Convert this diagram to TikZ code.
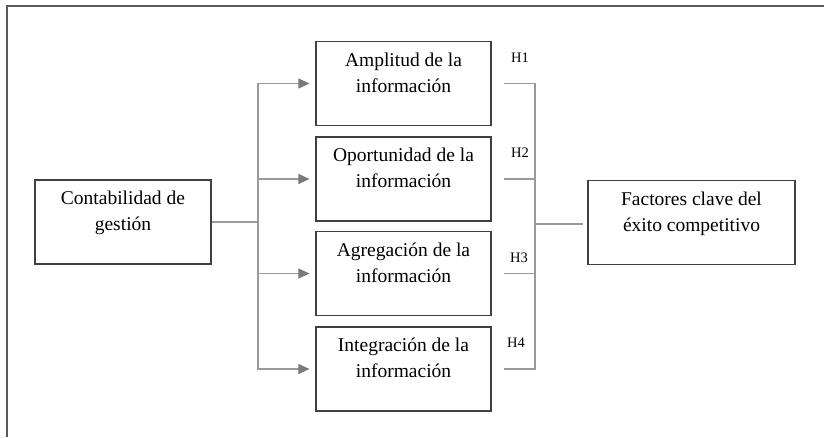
\documentclass[tikz,border=0pt]{standalone}
\usepackage{fontspec}
\setmainfont{Liberation Serif}
\usepackage{tikz}
\usetikzlibrary{arrows.meta}

\definecolor{framegray}{HTML}{5A5A5A}
\definecolor{boxgray}{HTML}{404040}
\definecolor{linegray}{HTML}{9A9A9A}
\definecolor{tipgray}{HTML}{7A7A7A}

\begin{document}
\begin{tikzpicture}[x=1pt,y=-1pt]
						\tikzstyle{box}=[rectangle,draw=boxgray,line width=1.2pt,minimum height=84pt,align=center,inner sep=0pt,text depth=22pt,font=\fontsize{19.5}{26}\selectfont]
						\tikzstyle{conn}=[draw=linegray,line width=1.1pt]
						\tikzstyle{arr}=[conn,-{Triangle[length=11pt,width=10pt,fill=tipgray,color=tipgray]},shorten >=6pt]
						\tikzstyle{hyp}=[font=\fontsize{14.5}{16}\selectfont,inner sep=0pt]
						\useasboundingbox (0,0) rectangle (824,437);
						\draw[draw=framegray,line width=2pt] (7,437) -- (7,6) -- (824,6);
						\node[box,minimum width=176pt] (cont) at (123,222) {Contabilidad de\\gestión};
						\node[box,minimum width=175pt] (amp) at (403.5,83.5) {Amplitud de la\\información};
						\node[box,minimum width=175pt] (opo) at (403.5,179) {Oportunidad de la\\información};
						\node[box,minimum width=175pt] (agr) at (403.5,273.5) {Agregación de la\\información};
						\node[box,minimum width=175pt] (integ) at (403.5,369) {Integración de la\\información};
						\node[box,minimum width=207pt] (fact) at (691.5,222.5) {Factores clave del\\éxito competitivo};
						\coordinate (split) at (258,222);
						\coordinate (join) at (535,224);
						\draw[conn] (cont.east) -- (split);
						\foreach \b in {amp,opo,agr,integ}
							\draw[arr] (split) |- (\b.west);
						\foreach \b in {amp,opo,agr,integ}
							\draw[conn,shorten <=12pt] (\b.east) -| (join);
						\draw[conn,shorten >=4pt] (join) -- (join -| fact.west);
						\node[hyp] (h1) at (520,58) {H1};
						\node[hyp] (h2) at (520,153) {H2};
						\node[hyp] (h3) at (519,258) {H3};
						\node[hyp] (h4) at (516,343) {H4};
						\end{tikzpicture}
\end{document}
